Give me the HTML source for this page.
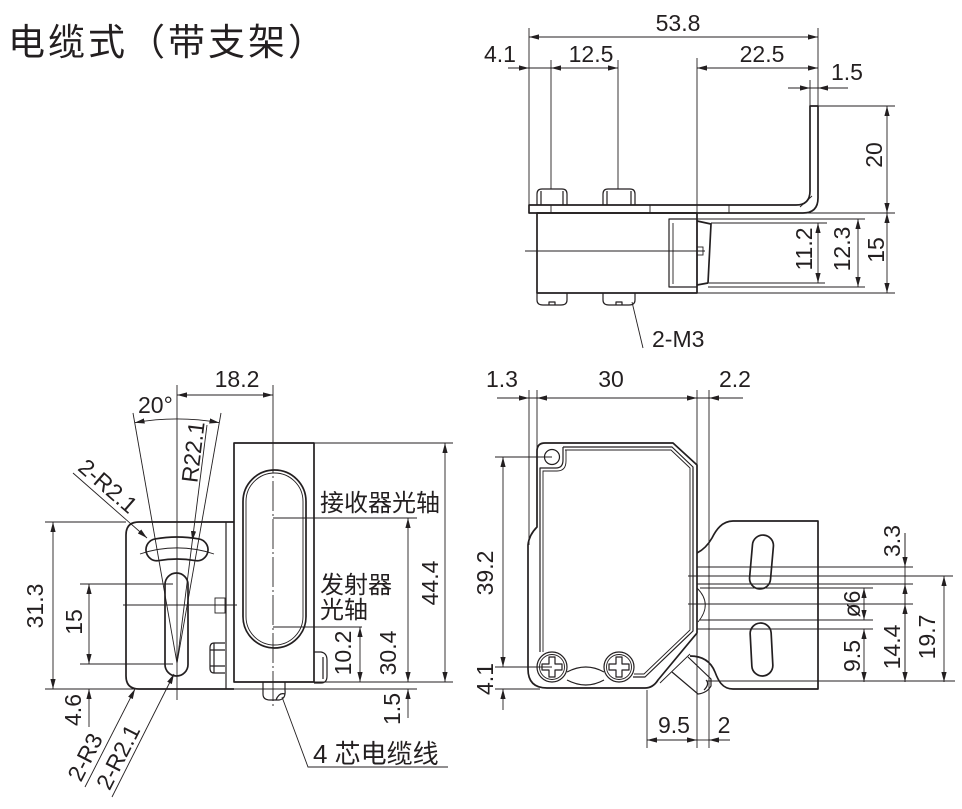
<!DOCTYPE html>
<html><head><meta charset="utf-8"><style>
html,body{margin:0;padding:0;background:#fff;}
svg{display:block;}
text{font-family:"Liberation Sans","Noto Sans CJK SC",sans-serif;fill:#231f20;}
.o{fill:none;stroke:#231f20;stroke-width:1.7;stroke-linejoin:round;}
.m{fill:none;stroke:#231f20;stroke-width:1.2;stroke-linejoin:round;}
.t{fill:none;stroke:#231f20;stroke-width:0.9;}
.c{fill:none;stroke:#231f20;stroke-width:0.9;stroke-dasharray:30 3 2 3;}
.d{fill:none;stroke:#231f20;stroke-width:0.9;marker-start:url(#a);marker-end:url(#a);}
.e{fill:none;stroke:#231f20;stroke-width:0.9;marker-end:url(#a);}
.n{font-size:23px;}
.r{font-size:23px;text-anchor:middle;}
</style></head><body>
<svg width="962" height="809" viewBox="0 0 962 809" xmlns="http://www.w3.org/2000/svg">
<defs><marker id="a" viewBox="0 0 10 6" refX="10" refY="3" markerWidth="10" markerHeight="6" markerUnits="userSpaceOnUse" orient="auto-start-reverse"><path d="M0,0.4 L10,3 L0,5.6z" fill="#231f20"/></marker></defs>

<!-- Title -->
<text x="8" y="55" style="font-size:37px;letter-spacing:3px">电缆式（带支架）</text>

<!-- ============ TOP VIEW ============ -->
<line class="t" x1="529" y1="28" x2="529" y2="205"/>
<line class="t" x1="818" y1="28" x2="818" y2="106"/>
<line class="t" x1="551" y1="60" x2="551" y2="189"/>
<line class="t" x1="618" y1="60" x2="618" y2="189"/>
<line class="t" x1="697" y1="58" x2="697" y2="213"/>
<line class="t" x1="810" y1="80" x2="810" y2="106"/>
<line class="d" x1="529" y1="37" x2="818" y2="37"/>
<text class="r" x="678" y="31">53.8</text>
<line class="t" x1="508" y1="68" x2="618" y2="68"/>
<line class="e" x1="508" y1="68" x2="529" y2="68"/>
<line class="d" x1="618" y1="68" x2="551" y2="68"/>
<line class="d" x1="697" y1="68" x2="818" y2="68"/>
<text class="r" x="500" y="62">4.1</text>
<text class="r" x="591" y="62">12.5</text>
<text class="r" x="762" y="62">22.5</text>
<line class="t" x1="788" y1="88" x2="848" y2="88"/>
<line class="e" x1="788" y1="88" x2="810" y2="88"/>
<line class="e" x1="848" y1="88" x2="818" y2="88"/>
<text class="r" x="847" y="80">1.5</text>
<line class="t" x1="818" y1="106" x2="895" y2="106"/>
<line class="t" x1="803" y1="213" x2="895" y2="213"/>
<line class="t" x1="697" y1="293" x2="895" y2="293"/>
<line class="t" x1="697" y1="219" x2="865" y2="219"/>
<line class="t" x1="708" y1="287" x2="865" y2="287"/>
<line class="t" x1="711" y1="223" x2="827" y2="223"/>
<line class="t" x1="709" y1="283" x2="825" y2="283"/>
<line class="d" x1="887" y1="106" x2="887" y2="213"/>
<line class="d" x1="887" y1="213" x2="887" y2="293"/>
<line class="d" x1="858" y1="219" x2="858" y2="287"/>
<line class="d" x1="818" y1="223" x2="818" y2="283"/>
<text class="r" transform="translate(874,155) rotate(-90)" y="8">20</text>
<text class="r" transform="translate(876,250) rotate(-90)" y="8">15</text>
<text class="r" transform="translate(842,249) rotate(-90)" y="8">12.3</text>
<text class="r" transform="translate(804,249) rotate(-90)" y="8">11.2</text>

<path class="o" d="M529,205 L796,205 Q810,205 810,191 L810,106 L818,106 L818,198 Q818,213 803,213 L529,213 Z"/>
<path class="t" d="M551,205v8 M650,205v8 M729,205v8 M800,207 L812,196"/>
<rect class="o" x="537" y="213" width="160" height="80"/>
<rect class="m" x="669" y="219" width="28" height="68"/>
<line class="t" x1="673" y1="223" x2="673" y2="284"/>
<path class="o" d="M697,221 L711,224 L708,283 L697,285"/>
<rect class="t" x="697" y="247" width="6" height="8"/>
<line class="t" x1="525" y1="251" x2="705" y2="251"/>
<path class="m" d="M537,205 V194 Q537,189 542,189 H562 Q567,189 567,194 V205 M541,191 V205 M563,191 V205"/>
<path class="m" d="M603,205 V194 Q603,189 608,189 H630 Q635,189 635,194 V205 M607,191 V205 M631,191 V205"/>
<path class="m" d="M537,293 V300 Q537,305 543,305 H561 Q567,305 567,300 V293 M549,305 v-3 h6 v3"/>
<path class="m" d="M603,293 V300 Q603,305 609,305 H629 Q635,305 635,300 V293 M616,305 v-3 h6 v3"/>
<line class="t" x1="632" y1="302" x2="643" y2="348"/>
<text class="n" x="652" y="347">2-M3</text>

<!-- ============ LEFT BOTTOM VIEW ============ -->
<line class="t" x1="177" y1="385" x2="177" y2="700"/>
<line class="t" x1="273" y1="385" x2="273" y2="443"/>
<line class="c" x1="273" y1="443" x2="273" y2="706"/>
<line class="d" x1="177" y1="395" x2="273" y2="395"/>
<text class="r" x="237" y="387">18.2</text>

<line class="t" x1="133" y1="413" x2="177" y2="663"/>
<line class="t" x1="221" y1="413" x2="177" y2="663"/>
<path class="d" d="M219.4,422.7 A244,244 0 0 0 134.6,422.7"/>
<text class="n" x="138" y="413">20°</text>
<line class="e" x1="207" y1="425" x2="192.3" y2="541"/>
<line class="t" x1="192.3" y1="541" x2="177" y2="663"/>
<text class="r" transform="translate(193,452) rotate(-83)" y="8">R22.1</text>
<line class="e" x1="73" y1="473" x2="147" y2="538"/>
<text class="r" transform="translate(108,486) rotate(41)" y="8">2-R2.1</text>

<!-- ext lines / dims -->
<line class="t" x1="45" y1="522" x2="126" y2="522"/>
<line class="t" x1="45" y1="689" x2="417" y2="689"/>
<line class="t" x1="80" y1="584" x2="173" y2="584"/>
<line class="t" x1="80" y1="664" x2="173" y2="664"/>
<line class="d" x1="53" y1="522" x2="53" y2="689"/>
<line class="d" x1="89" y1="584" x2="89" y2="664"/>
<line class="e" x1="89" y1="727" x2="89" y2="689"/>
<text class="r" transform="translate(35,606) rotate(-90)" y="8">31.3</text>
<text class="r" transform="translate(74,622) rotate(-90)" y="8">15</text>
<text class="r" transform="translate(73,710) rotate(-90)" y="8">4.6</text>

<!-- bracket -->
<path class="o" d="M234,522 L139,522 Q126,522 126,535 L126,676 Q126,689 139,689 L234,689"/>
<line class="m" x1="226" y1="522" x2="226" y2="689"/>
<path class="o" d="M155.1,538.9 A126,126 0 0 1 198.9,538.9 A11,11 0 0 1 195.1,560.6 A104,104 0 0 0 158.9,560.6 A11,11 0 0 1 155.1,538.9 Z"/>
<path class="t" d="M140,554 A115,115 0 0 1 214,554"/>
<rect class="o" x="165" y="573" width="23" height="103" rx="11.5"/>
<line class="t" x1="123" y1="605" x2="237" y2="605"/>
<rect class="t" x="215" y="598" width="10" height="15"/>
<path class="m" d="M225,643 L214,643 Q210,643 210,648 L210,668 Q210,673 214,673 L225,673 M210,650 H225 M210,666 H225 M214,643 V673"/>

<!-- sensor side -->
<rect class="o" x="234" y="443" width="80" height="239"/>
<rect class="o" x="243" y="470" width="63" height="178" rx="31.5"/>
<rect class="t" x="246" y="473" width="57" height="172" rx="28.5"/>
<path class="m" d="M263,682 L263,694 Q263,700 270,700 L279,700 Q286,699 285,690 L285,682 M276,700 Q279,692 285,694"/>
<path class="m" d="M314,652 L321,652 Q327,653 327,660 L327,676 Q327,683 321,683 L314,683 M323,657 V679"/>

<line class="t" x1="314" y1="443" x2="453" y2="443"/>
<line class="t" x1="314" y1="682" x2="453" y2="682"/>
<line class="t" x1="273" y1="518" x2="417" y2="518"/>
<line class="t" x1="273" y1="627" x2="362" y2="627"/>
<line class="d" x1="445" y1="443" x2="445" y2="682"/>
<line class="d" x1="408" y1="518" x2="408" y2="682"/>
<line class="e" x1="408" y1="718" x2="408" y2="689"/>
<line class="d" x1="360" y1="627" x2="360" y2="682"/>
<text class="r" transform="translate(430,583) rotate(-90)" y="8">44.4</text>
<text class="r" transform="translate(388,653) rotate(-90)" y="8">30.4</text>
<text class="r" transform="translate(392,709) rotate(-90)" y="8">1.5</text>
<text class="r" transform="translate(343,653) rotate(-90)" y="8">10.2</text>
<text x="320" y="511" style="font-size:24px">接收器光轴</text>
<text x="320" y="593" style="font-size:24px">发射器</text>
<text x="320" y="618" style="font-size:24px">光轴</text>

<line class="e" x1="85" y1="787" x2="135" y2="689"/>
<line class="e" x1="112" y1="797" x2="174" y2="674"/>
<text class="r" transform="translate(85,757) rotate(-63)" y="8">2-R3</text>
<text class="r" transform="translate(118,757) rotate(-63)" y="8">2-R2.1</text>

<path class="t" d="M282,697 L308,767 L448,767"/>
<text x="313" y="763" style="font-size:26px">4 芯电缆线</text>

<!-- ============ RIGHT BOTTOM VIEW ============ -->
<line class="t" x1="497" y1="398" x2="743" y2="398"/>
<line class="e" x1="497" y1="398" x2="529" y2="398"/>
<line class="d" x1="537" y1="398" x2="697" y2="398"/>
<line class="e" x1="743" y1="398" x2="709" y2="398"/>
<text class="r" x="502" y="387">1.3</text>
<text class="r" x="611" y="387">30</text>
<text class="r" x="735" y="387">2.2</text>
<line class="t" x1="529" y1="390" x2="529" y2="545"/>
<line class="t" x1="537" y1="390" x2="537" y2="450"/>
<line class="t" x1="697" y1="390" x2="697" y2="466"/>
<line class="t" x1="697" y1="633" x2="697" y2="748"/>
<line class="t" x1="709" y1="390" x2="709" y2="748"/>

<!-- horizontal ref lines -->
<line class="t" x1="697" y1="567" x2="913" y2="567"/>
<line class="t" x1="688" y1="576" x2="953" y2="576"/>
<line class="t" x1="697" y1="584" x2="913" y2="584"/>
<line class="t" x1="700" y1="588" x2="873" y2="588"/>
<line class="t" x1="688" y1="604" x2="913" y2="604"/>
<line class="t" x1="700" y1="620" x2="873" y2="620"/>
<line class="t" x1="697" y1="629" x2="873" y2="629"/>
<line class="t" x1="707" y1="681" x2="955" y2="681"/>

<!-- body -->
<path class="o" d="M545,443 L673,443 L697,465 L697,633 L658,680 Q653,688 645,688 L547,688 Q528,688 528,669 L528,545 Q529,535 537,527 L537,451 Q537,443 545,443 Z"/>
<path class="m" d="M563,447 L672,447 L693,467 L693,631 L645,677 L633,677 M540,652 L540,468 L556,468 Q563,468 563,460 L563,447"/>
<path class="t" d="M565,450 L671,450 L690,468 L690,630 L644,674 L634,674 M543,652 L543,471 L557,471 Q566,471 566,461 L566,450"/>
<path class="m" d="M567,672 Q586,662 604,672 M567,680 Q586,690 604,680"/>
<circle class="m" cx="552" cy="457" r="7.5"/>
<circle class="m" cx="552" cy="667" r="15"/>
<circle class="t" cx="552" cy="667" r="12.5"/>
<path class="m" d="M549,657 L555,657 L555,664 L562,664 L562,670 L555,670 L555,677 L549,677 L549,670 L542,670 L542,664 L549,664 Z"/>
<circle class="m" cx="619" cy="667" r="15"/>
<circle class="t" cx="619" cy="667" r="12.5"/>
<path class="m" d="M616,657 L622,657 L622,664 L629,664 L629,670 L622,670 L622,677 L616,677 L616,670 L609,670 L609,664 L616,664 Z"/>
<path class="t" d="M697,588 Q713,604 698,622"/>

<!-- bracket -->
<path class="o" d="M697,553 C703,550 708,545 712,538 C716,530 722,521 733,521 L818,521 L818,689 L733,689 C722,689 718,680 715,672 C711,662 703,656 690,656"/>
<rect class="o" x="751" y="535" width="21" height="54" rx="10.5" transform="rotate(5 761.5 562)"/>
<rect class="o" x="751" y="623" width="21" height="53" rx="10.5" transform="rotate(-3 761.5 649.5)"/>
<path class="m" d="M672,672 L698,694 Q707,693 711,686 L711,679 L688,657 M704,690 Q710,684 706,680"/>
<path class="t" d="M660,683 L690,654"/>

<!-- dims -->
<line class="t" x1="495" y1="457" x2="552" y2="457"/>
<line class="t" x1="495" y1="667" x2="552" y2="667"/>
<line class="t" x1="495" y1="689" x2="540" y2="689"/>
<line class="d" x1="503" y1="457" x2="503" y2="667"/>
<line class="e" x1="503" y1="710" x2="503" y2="689"/>
<text class="r" transform="translate(485,573) rotate(-90)" y="8">39.2</text>
<text class="r" transform="translate(485,679) rotate(-90)" y="8">4.1</text>

<line class="t" x1="647" y1="690" x2="647" y2="748"/>
<line class="d" x1="647" y1="740" x2="697" y2="740"/>
<line class="t" x1="697" y1="740" x2="709" y2="740"/>
<line class="e" x1="730" y1="740" x2="709" y2="740"/>
<text class="r" x="674" y="733">9.5</text>
<text class="r" x="724" y="733">2</text>

<line class="t" x1="905" y1="533" x2="905" y2="682"/>
<line class="e" x1="905" y1="533" x2="905" y2="567"/>
<line class="e" x1="905" y1="604" x2="905" y2="584"/>
<line class="d" x1="905" y1="604" x2="905" y2="682"/>
<line class="d" x1="864" y1="588" x2="864" y2="620"/>
<line class="d" x1="864" y1="629" x2="864" y2="682"/>
<line class="d" x1="944" y1="576" x2="944" y2="682"/>
<text class="r" transform="translate(892,541) rotate(-90)" y="8">3.3</text>
<text class="r" transform="translate(852,604) rotate(-90)" y="8">ø6</text>
<text class="r" transform="translate(852,656) rotate(-90)" y="8">9.5</text>
<text class="r" transform="translate(892,647) rotate(-90)" y="8">14.4</text>
<text class="r" transform="translate(927,637) rotate(-90)" y="8">19.7</text>
</svg>
</body></html>
